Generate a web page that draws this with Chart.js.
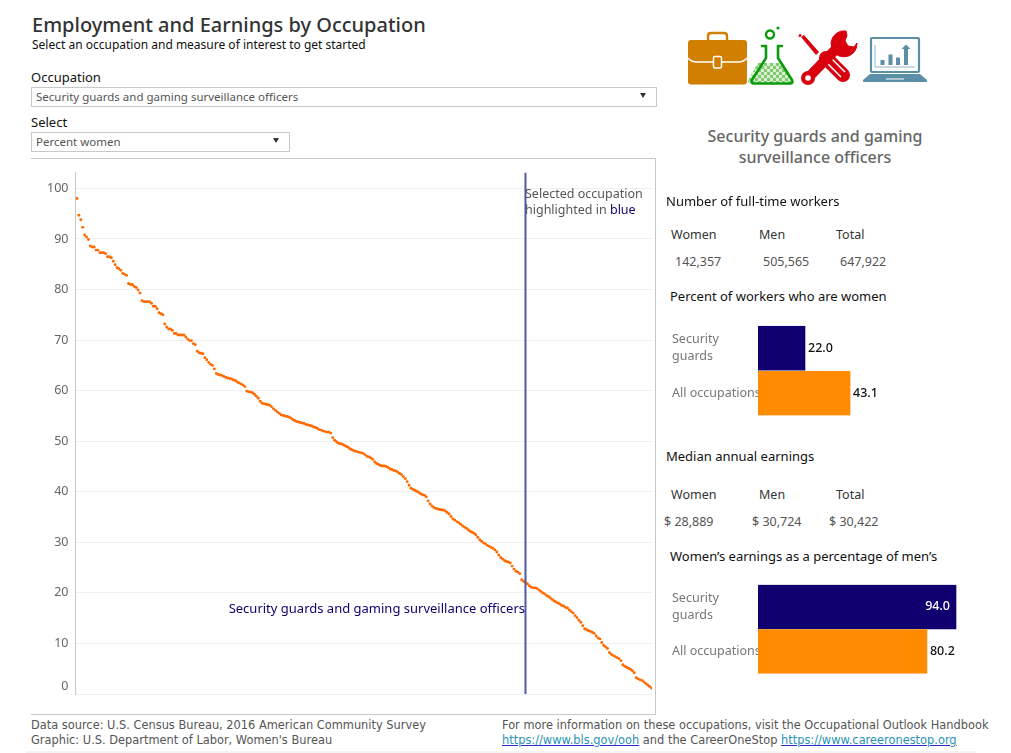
<!DOCTYPE html>
<html><head><meta charset="utf-8"><title>Employment and Earnings by Occupation</title>
<script src="https://cdn.jsdelivr.net/npm/chart.js@4"></script>
<style>
html,body{margin:0;padding:0;background:#fff;width:1011px;height:753px;overflow:hidden}
body{font-family:"Noto Sans",sans-serif;color:#333;position:relative}
.t{position:absolute;white-space:nowrap;line-height:16px;font-size:12.5px}
.b{color:#111}
.g{color:#555}
.f{font-family:"DejaVu Sans",sans-serif;font-size:11.4px;color:#555}
.f a{color:#2a93b5;text-decoration:underline;text-decoration-color:#2a2ad0}
.box{position:absolute;border:1px solid #c8c8c8;box-sizing:border-box;background:#fff}
.tri{position:absolute;width:0;height:0;border-left:3.5px solid transparent;border-right:3.5px solid transparent;border-top:5px solid #333}
canvas{position:absolute}
.line{position:absolute;background:#c8c8c8}
</style></head>
<body>
<div class="t" style="left:32px;top:12px;font-size:20px;line-height:26px;color:#333;font-weight:500">Employment and Earnings by Occupation</div>
<div class="t b" style="left:32px;top:37px;font-size:12px">Select an occupation and measure of interest to get started</div>
<div class="t b" style="left:31px;top:69px;font-size:13px">Occupation</div>
<div class="box" style="left:31px;top:87px;width:626px;height:20px"></div>
<div class="t g" style="left:36px;top:89px;font-size:11.5px">Security guards and gaming surveillance officers</div>
<div class="tri" style="left:640px;top:93px"></div>
<div class="t b" style="left:31px;top:114px;font-size:13px">Select</div>
<div class="box" style="left:31px;top:132px;width:259px;height:20px"></div>
<div class="t g" style="left:36px;top:134px;font-size:11.5px">Percent women</div>
<div class="tri" style="left:273px;top:138px"></div>

<div class="line" style="left:31px;top:158px;width:625px;height:1px"></div>
<div class="line" style="left:31px;top:714px;width:625px;height:1px"></div>
<div class="line" style="left:655px;top:158px;width:1px;height:557px"></div>
<canvas id="scatter" width="625" height="558" style="left:31px;top:158px;width:625px;height:558px"></canvas>

<div class="t g" style="left:525px;top:186px;font-size:12.5px">Selected occupation</div>
<div class="t g" style="left:525px;top:202px;font-size:12.5px">highlighted in <span style="color:#10006f">blue</span></div>
<div class="t" style="right:486px;top:600px;font-size:13px;color:#10006f">Security guards and gaming surveillance officers</div>

<svg style="position:absolute;left:680px;top:20px" width="260" height="70" viewBox="680 20 260 70">
 <defs><pattern id="chk" x="755" y="60" width="6" height="6" patternUnits="userSpaceOnUse">
  <rect width="6" height="6" fill="#d8efd0"/><rect width="3" height="3" fill="#7fca72"/><rect x="3" y="3" width="3" height="3" fill="#7fca72"/></pattern></defs>
 <!-- briefcase -->
 <path d="M708 40v-4q0-3 3-3h13q3 0 3 3v4" fill="none" stroke="#d17f00" stroke-width="2.4"/>
 <rect x="688" y="40" width="59" height="44.5" rx="3" fill="#d17f00"/>
 <path d="M688 58q3 4 9 4h41q6 0 9-4" fill="none" stroke="#fff" stroke-width="1.4"/>
 <rect x="713.5" y="56.5" width="8" height="11.5" rx="1.5" fill="#d17f00" stroke="#fff" stroke-width="1.5"/>
 <!-- flask -->
 <circle cx="770" cy="34.5" r="4" fill="none" stroke="#0a9a0a" stroke-width="2.4"/>
 <circle cx="778" cy="28" r="1.6" fill="#0a9a0a"/>
 <path d="M758 63h24l10 17q1 3-2 3h-40q-3 0-2-3z" fill="url(#chk)"/>
 <path d="M762 46h4v12l-14 22q-1.500 3.500 2 3.500h36q3.500 0 2-3.500l-14-22v-12h4" fill="none" stroke="#0a9a0a" stroke-width="2.6" stroke-linejoin="round" stroke-linecap="round"/>
 <!-- screwdriver -->
 <path d="M801 37l3-2 15 17-3 3z" fill="#d9000d"/>
 <path d="M801 36l-2-1" stroke="#d9000d" stroke-width="3"/>
 <path d="M826 58l17 17" stroke="#d9000d" stroke-width="14" stroke-linecap="round"/>
 <path d="M826 62l15 15M830 57l15 15" stroke="#fff" stroke-width="1.5"/>
 <!-- wrench -->
 <path d="M809 77l26-27" stroke="#d9000d" stroke-width="10"/>
 <circle cx="808" cy="78" r="7" fill="#d9000d"/><circle cx="808" cy="78" r="2.800" fill="#fff"/>
 <path d="M846 31a13 13 0 1 0 11 12l-3 4-6-1-3-5 2-6z" fill="#d9000d" stroke="#d9000d" stroke-width="1"/>
 <path d="M816 67l9-9 4 4-9 9z" fill="#fff" opacity="0"/>
 <!-- laptop -->
 <rect x="871" y="38" width="48" height="34" rx="1" fill="none" stroke="#5b8fa8" stroke-width="2.200"/>
 <path d="M875 45v22h40" fill="none" stroke="#8fb4c6" stroke-width="1"/>
 <rect x="880.500" y="60" width="4" height="5" fill="#5b8fa8"/>
 <rect x="888.500" y="54.500" width="4" height="10.500" fill="#5b8fa8"/>
 <rect x="896" y="57.500" width="4" height="7.500" fill="#5b8fa8"/>
 <path d="M904 65v-16h-2.500l4.500-4.500 4.500 4.500h-2.500v16z" fill="#5b8fa8"/>
 <path d="M870 74h50l7 6q.5 2-1 2h-62q-1.500 0-1-2z" fill="#5b8fa8"/>
 <path d="M886 79h18" stroke="#fff" stroke-width="1"/>
</svg>

<div class="t" style="left:815px;transform:translateX(-50%);top:127px;font-size:16px;line-height:19px;color:#666;font-weight:500">Security guards and gaming</div>
<div class="t" style="left:815px;transform:translateX(-50%);top:148px;font-size:16px;line-height:19px;color:#666;font-weight:500">surveillance officers</div>

<div class="t b" style="left:666px;top:193px;font-size:13px">Number of full-time workers</div>
<div class="t" style="left:671px;top:227px">Women</div><div class="t" style="left:759px;top:227px">Men</div><div class="t" style="left:836px;top:227px">Total</div>
<div class="t g" style="left:675px;top:254px">142,357</div><div class="t g" style="left:763px;top:254px">505,565</div><div class="t g" style="left:840px;top:254px">647,922</div>
<div class="t b" style="left:670px;top:288px;font-size:13px">Percent of workers who are women</div>
<canvas id="barShare" width="300" height="116" style="left:672px;top:317px;width:300px;height:116px"></canvas>
<div class="t b" style="left:666px;top:448px;font-size:13px">Median annual earnings</div>
<div class="t" style="left:671px;top:487px">Women</div><div class="t" style="left:759px;top:487px">Men</div><div class="t" style="left:836px;top:487px">Total</div>
<div class="t g" style="left:664px;top:514px">$ 28,889</div><div class="t g" style="left:752px;top:514px">$ 30,724</div><div class="t g" style="left:829px;top:514px">$ 30,422</div>
<div class="t b" style="left:670px;top:548px;font-size:13px">Women’s earnings as a percentage of men’s</div>
<canvas id="barEarn" width="300" height="115" style="left:672px;top:576px;width:300px;height:115px"></canvas>

<div class="t f" style="left:31px;top:717px">Data source: U.S. Census Bureau, 2016 American Community Survey</div>
<div class="t f" style="left:31px;top:732px">Graphic: U.S. Department of Labor, Women's Bureau</div>
<div class="t f" style="left:502px;top:717px">For more information on these occupations, visit the Occupational Outlook Handbook</div>
<div class="t f" style="left:502px;top:732px"><a href="#">https://www.bls.gov/ooh</a> and the CareerOneStop <a href="#">https://www.careeronestop.org</a></div>
<div style="position:absolute;left:26px;top:751px;width:950px;height:2px;background:#f4f4f4"></div>

<script>
// Percent of workers who are women, one value per occupation, highest first
const percentWomen = [
98.0,94.7,93.8,92.3,90.8,90.4,89.9,88.6,88.4,88.4,87.8,87.8,87.3,87.3,87.3,87.1,86.5,86.5,86.3,85.6,
84.9,84.3,84.1,83.8,83.2,83.0,82.8,81.2,81.0,81.0,80.6,80.4,79.9,79.3,77.8,77.6,77.6,77.6,77.6,77.3,
76.7,76.7,76.2,75.4,75.2,75.0,73.2,72.6,72.2,72.2,71.9,71.3,71.3,71.0,71.0,71.0,71.0,70.6,70.2,69.9,
69.9,69.3,69.1,67.8,67.5,67.4,67.3,66.5,66.1,65.6,65.2,65.0,64.3,63.4,63.2,63.1,63.0,62.8,62.6,62.5,
62.4,62.3,62.1,62.0,61.7,61.5,61.3,61.1,60.8,59.9,59.8,59.7,59.6,59.3,58.9,58.5,57.9,57.5,57.4,57.3,
57.2,57.1,56.8,56.4,56.1,55.8,55.5,55.2,55.1,55.0,54.9,54.8,54.6,54.3,54.1,53.9,53.8,53.7,53.6,53.5,
53.3,53.2,53.1,53.0,52.8,52.7,52.5,52.3,52.2,52.0,51.9,51.8,51.8,51.6,50.7,50.2,49.9,49.6,49.5,49.4,
49.2,49.0,48.8,48.5,48.3,48.1,48.0,47.9,47.8,47.7,47.6,47.3,47.0,46.9,46.7,46.4,45.9,45.6,45.4,45.2,
45.1,45.1,45.0,44.8,44.5,44.4,44.2,44.1,43.9,43.6,43.4,43.0,42.6,42.0,41.3,40.7,40.5,40.3,40.1,39.9,
39.6,39.4,39.3,39.0,38.2,37.6,37.2,36.9,36.7,36.6,36.5,36.4,36.4,36.2,35.9,35.6,35.1,34.6,34.4,34.1,
33.9,33.6,33.3,33.0,32.8,32.5,32.2,32.0,31.8,31.5,31.0,30.5,30.2,29.9,29.7,29.4,29.2,29.0,28.8,28.5,
28.1,27.5,27.0,26.7,26.4,26.2,26.1,25.9,25.3,24.7,24.3,24.1,23.8,22.6,22.3,22.0,21.8,21.4,21.1,21.0,
21.0,20.9,20.6,20.3,20.0,19.8,19.5,19.3,19.0,18.7,18.4,18.2,18.0,17.8,17.5,17.4,17.1,17.0,16.6,16.3,
16.0,15.5,15.1,14.6,14.2,13.5,12.9,12.7,12.5,12.4,12.2,12.0,11.5,11.1,10.9,10.2,9.6,9.3,9.0,8.2,
7.8,7.6,7.4,7.2,7.0,6.6,5.8,5.5,5.3,5.1,4.9,4.6,4.2,3.2,3.0,2.8,2.7,2.4,2.1,1.8,1.5,1.2];
const selectedRank = 235;
const yTicksMin = 0, yTicksMax = 100;
const barCategories = [["Security","guards"],"All occupations"];
const shareOfWomen = [22.0, 43.1];
const earningsRatio = [94.0, 80.2];

const NAVY='#10006f', ORANGE='#ff8c00', DOT='#ff6a00', TICK='#666', FONT='"Noto Sans",sans-serif';
Chart.defaults.animation=false;
Chart.defaults.responsive=false;
Chart.defaults.maintainAspectRatio=false;
Chart.defaults.plugins.legend.display=false;
Chart.defaults.plugins.tooltip.enabled=false;

new Chart(document.getElementById('scatter'),{
 type:'scatter',
 data:{datasets:[
  {label:'Percent women',data:percentWomen.map((v,i)=>({x:i,y:v})),pointRadius:1.45,pointBackgroundColor:DOT,pointBorderWidth:0,showLine:false,order:2},
  {label:'Selected occupation',data:[{x:selectedRank,y:0},{x:selectedRank,y:103.15}],showLine:true,borderColor:'#5158a5',borderWidth:2,pointRadius:0,order:1}
 ]},
 options:{
  layout:{padding:{top:.5,bottom:1.5,right:.5,left:0}},
  scales:{
   x:{type:'linear',display:false,min:-0.78,max:301.3},
   y:{type:'linear',min:yTicksMin,max:103.15,
      border:{color:'#c8c8c8',width:1},
      grid:{color:'#f0f0f0',drawTicks:false,lineWidth:1},
      afterFit:s=>{s.width=44.5},
      ticks:{stepSize:10,includeBounds:false,color:TICK,padding:7,font:{family:FONT,size:12.5},
       callback:v=>v===0?['0','']:String(v)}}
  }
 }
});

const valueLabels={id:'valueLabels',afterDatasetsDraw(c){
 const ctx=c.ctx,m=c.getDatasetMeta(0);ctx.save();
 ctx.font='500 12.5px '+FONT;ctx.textBaseline='middle';
 m.data.forEach((el,i)=>{
  const v=c.data.datasets[0].data[i],s=v.toFixed(1);
  if(v>=90){ctx.fillStyle='#fff';ctx.textAlign='right';ctx.fillText(s,el.x-6,el.y);}
  else{ctx.fillStyle='#111';ctx.textAlign='left';ctx.fillText(s,el.x+3,el.y);}
 });ctx.restore();}};

function bars(id,values,xMax,pad){
 new Chart(document.getElementById(id),{
  type:'bar',plugins:[valueLabels],
  data:{labels:barCategories,datasets:[{data:values,backgroundColor:[NAVY,ORANGE],barThickness:44,borderWidth:0}]},
  options:{indexAxis:'y',layout:{padding:pad},
   scales:{
    x:{type:'linear',display:false,min:0,max:xMax},
    y:{type:'category',border:{display:false},grid:{display:false,drawTicks:false},
       afterFit:s=>{s.width=86},
       ticks:{crossAlign:'far',padding:0,color:'#777',font:{family:FONT,size:12.5,lineHeight:1.38}}}
   }
  }
 });
}
bars('barShare',shareOfWomen,100.2,{top:.75,bottom:.25,left:0,right:0});
bars('barEarn',earningsRatio,101.6,{top:.5,bottom:.5,left:0,right:0});
</script>
</body></html>
